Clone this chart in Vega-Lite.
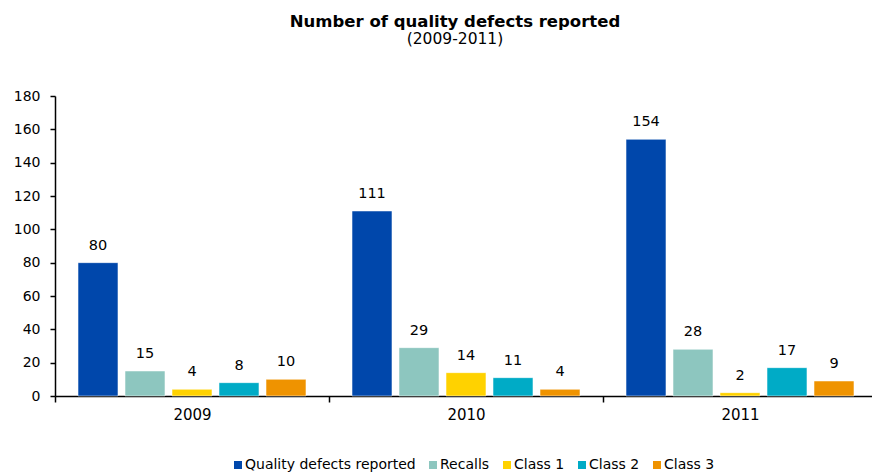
{
  "$schema": "https://vega.github.io/schema/vega-lite/v6.json",
  "width": 822,
  "height": 300,
  "autosize": {"type": "none"},
  "padding": {"left": 55, "top": 96, "right": 0, "bottom": 78},
  "background": "white",
  "title": {
    "text": "Number of quality defects reported",
    "subtitle": "(2009-2011)",
    "anchor": "middle",
    "frame": "group",
    "dx": -11,
    "offset": 42,
    "font": "DejaVu Sans",
    "fontSize": 16.5,
    "fontWeight": "bold",
    "color": "black",
    "subtitleFont": "DejaVu Sans",
    "subtitleFontSize": 15.5,
    "subtitleColor": "black",
    "subtitlePadding": 1
  },
  "config": {
    "view": {"stroke": null},
    "font": "DejaVu Sans"
  },
  "data": {
    "values": [
      {"year": "2009", "series": "Quality defects reported", "value": 80},
      {"year": "2009", "series": "Recalls", "value": 15},
      {"year": "2009", "series": "Class 1", "value": 4},
      {"year": "2009", "series": "Class 2", "value": 8},
      {"year": "2009", "series": "Class 3", "value": 10},
      {"year": "2010", "series": "Quality defects reported", "value": 111},
      {"year": "2010", "series": "Recalls", "value": 29},
      {"year": "2010", "series": "Class 1", "value": 14},
      {"year": "2010", "series": "Class 2", "value": 11},
      {"year": "2010", "series": "Class 3", "value": 4},
      {"year": "2011", "series": "Quality defects reported", "value": 154},
      {"year": "2011", "series": "Recalls", "value": 28},
      {"year": "2011", "series": "Class 1", "value": 2},
      {"year": "2011", "series": "Class 2", "value": 17},
      {"year": "2011", "series": "Class 3", "value": 9}
    ]
  },
  "encoding": {
    "x": {
      "field": "year",
      "type": "nominal",
      "scale": {"paddingInner": 0, "paddingOuter": 0},
      "axis": {
        "title": null,
        "labelAngle": 0,
        "labelFontSize": 15,
        "labelColor": "black",
        "labelPadding": 5,
        "domainColor": "black",
        "domainWidth": 1.5,
        "tickColor": "black",
        "tickWidth": 1.5,
        "tickSize": 6,
        "tickBand": "extent",
        "grid": false
      }
    },
    "xOffset": {
      "field": "series",
      "type": "nominal",
      "sort": ["Quality defects reported", "Recalls", "Class 1", "Class 2", "Class 3"],
      "scale": {"paddingInner": 0.15, "paddingOuter": 0.49}
    },
    "y": {
      "field": "value",
      "type": "quantitative",
      "scale": {"domain": [0, 180], "nice": false},
      "axis": {
        "title": null,
        "values": [0, 20, 40, 60, 80, 100, 120, 140, 160, 180],
        "labelFontSize": 14,
        "labelColor": "black",
        "labelPadding": 10,
        "domainColor": "black",
        "domainWidth": 1.5,
        "tickColor": "black",
        "tickWidth": 1.5,
        "tickSize": 5,
        "grid": false
      }
    }
  },
  "layer": [
    {
      "mark": {"type": "bar", "stroke": "white", "strokeWidth": 0.5},
      "encoding": {
        "color": {
          "field": "series",
          "type": "nominal",
          "sort": ["Quality defects reported", "Recalls", "Class 1", "Class 2", "Class 3"],
          "scale": {
            "domain": ["Quality defects reported", "Recalls", "Class 1", "Class 2", "Class 3"],
            "range": ["#0047AB", "#8DC6BF", "#FFD200", "#00ABC6", "#EF9300"]
          },
          "legend": {
            "title": null,
            "orient": "none",
            "direction": "horizontal",
            "legendX": 176,
            "legendY": 362,
            "symbolType": "square",
            "symbolSize": 64,
            "symbolStrokeWidth": 0,
            "labelFontSize": 14,
            "labelLimit": 400,
            "labelColor": "black",
            "labelOffset": 0,
            "columnPadding": 10,
            "symbolOffset": 0
          }
        }
      }
    },
    {
      "mark": {"type": "text", "baseline": "bottom", "dy": -10, "fontSize": 14.5, "color": "black"},
      "encoding": {
        "text": {"field": "value", "type": "quantitative"}
      }
    }
  ]
}
